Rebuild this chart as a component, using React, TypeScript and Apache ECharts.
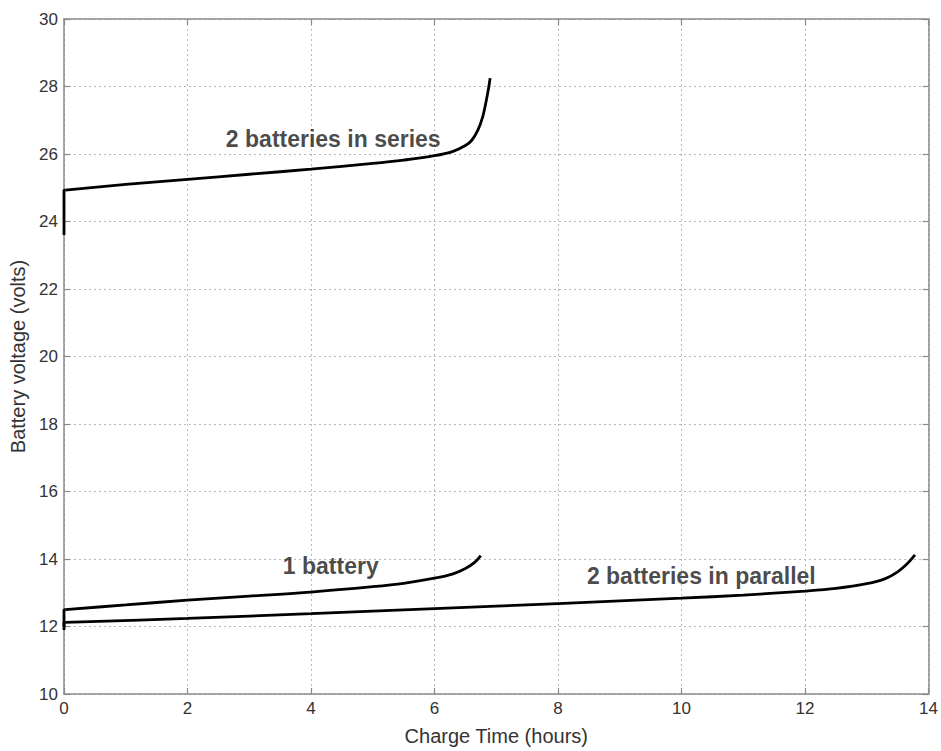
import React, { useEffect, useRef } from "react";
import * as echarts from "echarts";

// Charging curves: [hours, volts]
const seriesPair: [number, number][] = [
  [0.02, 24.93], [1, 25.1], [2, 25.25], [3, 25.4], [4, 25.55],
  [5, 25.72], [5.5, 25.82], [6, 25.95], [6.3, 26.08], [6.5, 26.25], [6.6, 26.4],
  [6.7, 26.7], [6.78, 27.1], [6.84, 27.6], [6.88, 28.0], [6.9, 28.25],
];
const oneBattery: [number, number][] = [
  [0.02, 12.5], [1, 12.64], [2, 12.78], [3, 12.9], [4, 13.02], [5, 13.18],
  [5.5, 13.28], [6, 13.43], [6.3, 13.56], [6.5, 13.72], [6.65, 13.9], [6.75, 14.1],
];
const parallelPair: [number, number][] = [
  [0.02, 12.12], [2, 12.24], [4, 12.38], [6, 12.53], [8, 12.68], [10, 12.84],
  [11, 12.93], [12, 13.05], [12.5, 13.13], [13, 13.27], [13.3, 13.42], [13.5, 13.62],
  [13.65, 13.85], [13.78, 14.12],
];
// Initial voltage jump at switch-on (x = 0)
const startJumps: [number, number][][] = [
  [[0, 23.6], [0, 24.93], [0.02, 24.93]],
  [[0, 12.0], [0, 12.5], [0.02, 12.5]],
  [[0, 11.9], [0, 12.12], [0.02, 12.12]],
];

// Curve annotations placed in data coordinates
const annotations: { text: string; x: number; y: number }[] = [
  { text: "2 batteries in series", x: 4.36, y: 26.43 },
  { text: "1 battery", x: 4.32, y: 13.8 },
  { text: "2 batteries in parallel", x: 10.32, y: 13.51 },
];

const xTitle = "Charge Time (hours)";
const yTitle = "Battery voltage (volts)";

const FONT = "Liberation Sans, Arial, Helvetica, sans-serif";

export default function App() {
  const ref = useRef<HTMLDivElement>(null);

  useEffect(() => {
    if (!ref.current) return;
    const chart = echarts.init(ref.current, undefined, { renderer: "svg" });

    const gridLine = { show: true, lineStyle: { color: "#b8b8b8", type: [2, 3] as any, width: 1 } };
    const axisLine = { show: true, onZero: false, lineStyle: { color: "#8a8a8a", width: 1.5 } };
    const tick = { show: true, inside: true, length: 6, lineStyle: { color: "#8a8a8a", width: 1.2 } };
    const label = { color: "#333", fontSize: 17, fontFamily: FONT };
    const title = { color: "#333", fontSize: 20, fontFamily: FONT };

    const curve = (data: [number, number][], smooth: number) => ({
      type: "line",
      data,
      showSymbol: false,
      symbol: "none",
      smooth,
      lineStyle: { color: "#000", width: 2.8 },
      xAxisIndex: 0,
      yAxisIndex: 0,
      z: 3,
    });

    chart.setOption({
      animation: false,
      backgroundColor: "#ffffff",
      grid: { left: 64, top: 19, right: 11, bottom: 54, containLabel: false },
      xAxis: [
        {
          type: "value", min: 0, max: 14, interval: 2, position: "bottom",
          axisLine, axisTick: tick, splitLine: gridLine,
          axisLabel: { ...label, margin: 6 },
          name: xTitle, nameLocation: "middle", nameGap: 32,
          nameTextStyle: title,
        },
        {
          type: "value", min: 0, max: 14, interval: 2, position: "top",
          axisLine, axisTick: tick, splitLine: { show: false }, axisLabel: { show: false },
        },
      ],
      yAxis: [
        {
          type: "value", min: 10, max: 30, interval: 2, position: "left",
          axisLine, axisTick: tick, splitLine: gridLine,
          axisLabel: { ...label, margin: 6 },
          name: yTitle, nameLocation: "middle", nameGap: 34,
          nameTextStyle: title,
        },
        {
          type: "value", min: 10, max: 30, interval: 2, position: "right",
          axisLine, axisTick: tick, splitLine: { show: false }, axisLabel: { show: false },
        },
      ],
      series: [
        curve(seriesPair, 0.35),
        curve(oneBattery, 0.35),
        curve(parallelPair, 0.35),
        ...startJumps.map((d) => curve(d, 0)),
        {
          type: "scatter",
          data: annotations.map((a) => ({ value: [a.x, a.y], name: a.text })),
          symbolSize: 1,
          itemStyle: { color: "rgba(0,0,0,0)" },
          label: {
            show: true,
            position: "inside",
            formatter: (p: any) => p.name,
            color: "#1a1a1a",
            fontSize: 23,
            fontWeight: "bold",
            fontFamily: FONT,
          },
          z: 4,
        },
      ],
    });

    return () => chart.dispose();
  }, []);

  return <div ref={ref} style={{ width: 941, height: 751, position: "absolute", left: 0, top: 0 }} />;
}
